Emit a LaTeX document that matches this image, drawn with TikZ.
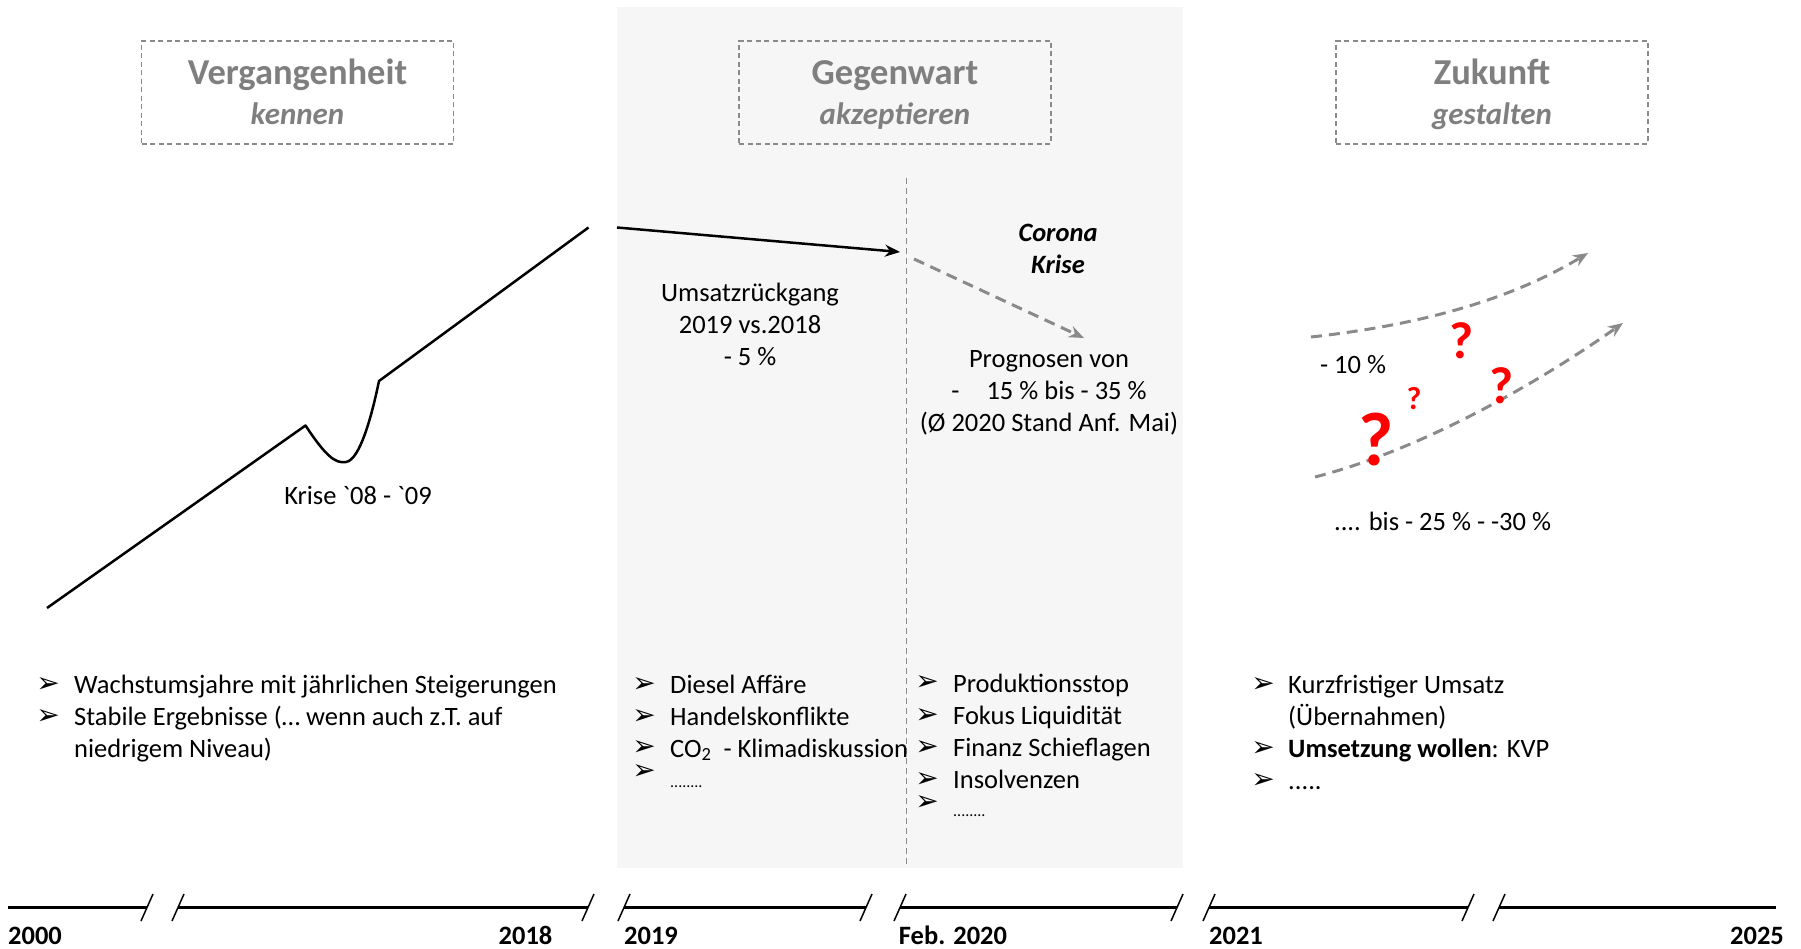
\documentclass[tikz,border=0pt]{standalone}
\usepackage{fontspec}
\setmainfont{Carlito}
\newfontfamily\bulletfont{DejaVu Sans}
\usetikzlibrary{arrows.meta}

\definecolor{panelgray}{HTML}{F6F6F6}
\definecolor{headgray}{HTML}{7F7F7F}
\definecolor{linegray}{HTML}{8A8A8A}
\definecolor{qred}{HTML}{FF0000}

\tikzset{
  txt/.style={font=\fontsize{26.5}{32}\selectfont, inner sep=0pt},
  listtxt/.style={txt, anchor=base west},
  headbox/.style={draw=linegray, dash pattern=on 5pt off 3.5pt, line width=1.3pt, minimum width=312pt, minimum height=103pt, inner sep=0pt},
  headtitle/.style={text=headgray, font=\fontsize{36.5}{42}\selectfont\bfseries, inner sep=0pt, anchor=base},
  headsub/.style={text=headgray, font=\fontsize{31}{36}\selectfont\bfseries\itshape, inner sep=0pt, anchor=base},
  bul/.style={font=\fontsize{28}{30}\bulletfont, inner sep=0pt},
  yearlbl/.style={font=\fontsize{26.5}{32}\selectfont\bfseries, inner sep=0pt, anchor=base},
  qmark/.style={text=qred, inner sep=0pt},
  trend/.style={line width=2.5pt, line join=round},
  fcast/.style={draw=linegray, line width=3pt, dash pattern=on 11pt off 7pt, -{Stealth[length=15pt,width=12pt]}},
  tline/.style={line width=2.5pt}
}

\begin{document}
\begin{tikzpicture}[x=1pt,y=-1pt]
      \def \tl {907.5}
      \def \yb {944}
      \useasboundingbox (0,0) rectangle (1801,949);

      %gray panel with dashline
      \fill[panelgray] (617,7) rectangle (1183,868);
      \draw[linegray, line width=1pt, dash pattern=on 6pt off 4pt] (906,178) -- (906,867);

      %header boxes
      \node[headbox] (past) at (297.5,92.5) {};
      \node[headbox] (present) at (895,92.5) {};
      \node[headbox] (future) at (1492,92.5) {};
      \node[headtitle] (pastT) at (297.5,84.5) {Vergangenheit};
      \node[headsub] (pastS) at (297.5,124.5) {kennen};
      \node[headtitle] (presentT) at (895,84.5) {Gegenwart};
      \node[headsub] (presentS) at (895,124.5) {akzeptieren};
      \node[headtitle] (futureT) at (1492,84.5) {Zukunft};
      \node[headsub] (futureS) at (1492,124.5) {gestalten};

      %revenue curve
      \draw[trend] (47,608) -- (305.5,425.5) .. controls (325,455) and (335,464) .. (346,462)
        .. controls (360,460) and (372,415) .. (379,381) -- (588.5,227.5);
      \node[txt, anchor=base] (crisis) at (358,504.5) {Krise \textasciigrave 08 - \textasciigrave 09};

      %drop 2019 and corona
      \coordinate (drop0) at (617,227.5);
      \coordinate (drop1) at (900,252);
      \draw[trend, -{Stealth[length=15pt,width=12pt]}] (drop0) -- (drop1);
      \coordinate (corona0) at (914,259);
      \coordinate (corona1) at (1084,338);
      \draw[fcast] (corona0) -- (corona1);
      \node[txt, align=center] (drop) at (750,324) {Umsatzrückgang\\2019 vs.2018\\- 5 \%};
      \node[txt, align=center, font=\fontsize{26.5}{32}\selectfont\bfseries\itshape] (corona) at (1058,249) {Corona\\Krise};
      \node[txt, align=center] (prog) at (1049,393) {Prognosen von\\-\hspace{27pt}15 \% bis - 35 \%\\(Ø 2020 Stand Anf. Mai)};

      %future paths
      \coordinate (up0) at (1311,337);
      \coordinate (up1) at (1588,253);
      \coordinate (lo0) at (1315,477);
      \coordinate (lo1) at (1623,323);
      \draw[fcast] (up0) .. controls (1420,325) and (1510,300) .. (up1);
      \draw[fcast] (lo0) .. controls (1420,450) and (1535,385) .. (lo1);
      \node[txt, anchor=base] (low) at (1353,373.5) {- 10 \%};
      \node[txt, anchor=base] (high) at (1442.6,530) {.... bis - 25 \% - -30 \%};
      \node[qmark, font=\fontsize{76}{80}\selectfont\bfseries] (q1) at (1376,440) {?};
      \node[qmark, font=\fontsize{52}{56}\selectfont\bfseries] (q2) at (1462,341) {?};
      \node[qmark, font=\fontsize{52}{56}\selectfont\bfseries] (q3) at (1502,386) {?};
      \node[qmark, font=\fontsize{32}{36}\selectfont\bfseries] (q4) at (1414,399) {?};

      %list past
      \node[bul] (b11) at (48,684.6) {➢};
      \node[listtxt] (t11) at (74,693) {Wachstumsjahre mit jährlichen Steigerungen};
      \node[bul] (b12) at (48,716.7) {➢};
      \node[listtxt] (t12) at (74,725) {Stabile Ergebnisse (… wenn auch z.T. auf};
      \node[listtxt] (t13) at (74,757) {niedrigem Niveau)};

      %list present left
      \node[bul] (b21) at (644,684.6) {➢};
      \node[listtxt] (t21) at (670,693) {Diesel Affäre};
      \node[bul] (b22) at (644,716.7) {➢};
      \node[listtxt] (t22) at (670,725) {Handelskonflikte};
      \node[bul] (b23) at (644,748) {➢};
      \node[listtxt] (t23) at (670,757) {CO\textsubscript{2}\ \ - Klimadiskussion};
      \node[bul] (b24) at (644,772) {➢};
      \node[listtxt, font=\fontsize{16}{18}\selectfont] (t24) at (670,787) {........};

      %list present right
      \node[bul] (b31) at (927,683.4) {➢};
      \node[listtxt] (t31) at (953,692) {Produktionsstop};
      \node[bul] (b32) at (927,715.6) {➢};
      \node[listtxt] (t32) at (953,724) {Fokus Liquidität};
      \node[bul] (b33) at (927,747.8) {➢};
      \node[listtxt] (t33) at (953,756) {Finanz Schieflagen};
      \node[bul] (b34) at (927,780) {➢};
      \node[listtxt] (t34) at (953,788.5) {Insolvenzen};
      \node[bul] (b35) at (927,803) {➢};
      \node[listtxt, font=\fontsize{16}{18}\selectfont] (t35) at (953,816) {........};

      %list future
      \node[bul] (b41) at (1263,684.6) {➢};
      \node[listtxt] (t41) at (1288,693) {Kurzfristiger Umsatz};
      \node[listtxt] (t42) at (1288,725) {(Übernahmen)};
      \node[bul] (b43) at (1263,749) {➢};
      \node[listtxt] (t43) at (1288,757.5) {\textbf{Umsetzung wollen}: KVP};
      \node[bul] (b44) at (1263,781) {➢};
      \node[listtxt] (t44) at (1288,789.5) {.....};

      %timeline with breaks
      \foreach \a/\b in {8/147,178/588,624/866,900/1177,1209/1468,1499/1776}
        \draw[tline] (\a,\tl) -- (\b,\tl);
      \foreach \s in {147,178,588,624,866,900,1177,1209,1468,1499}
        \draw[line width=1.5pt] (\s-6,\tl+13.5) -- (\s+6,\tl-13.5);

      %years
      \node[yearlbl] (y2000) at (35,\yb) {2000};
      \node[yearlbl] (y2018) at (525.5,\yb) {2018};
      \node[yearlbl] (y2019) at (651,\yb) {2019};
      \node[yearlbl] (y2020) at (953,\yb) {Feb. 2020};
      \node[yearlbl] (y2021) at (1236,\yb) {2021};
      \node[yearlbl] (y2025) at (1757,\yb) {2025};
\end{tikzpicture}
\end{document}
